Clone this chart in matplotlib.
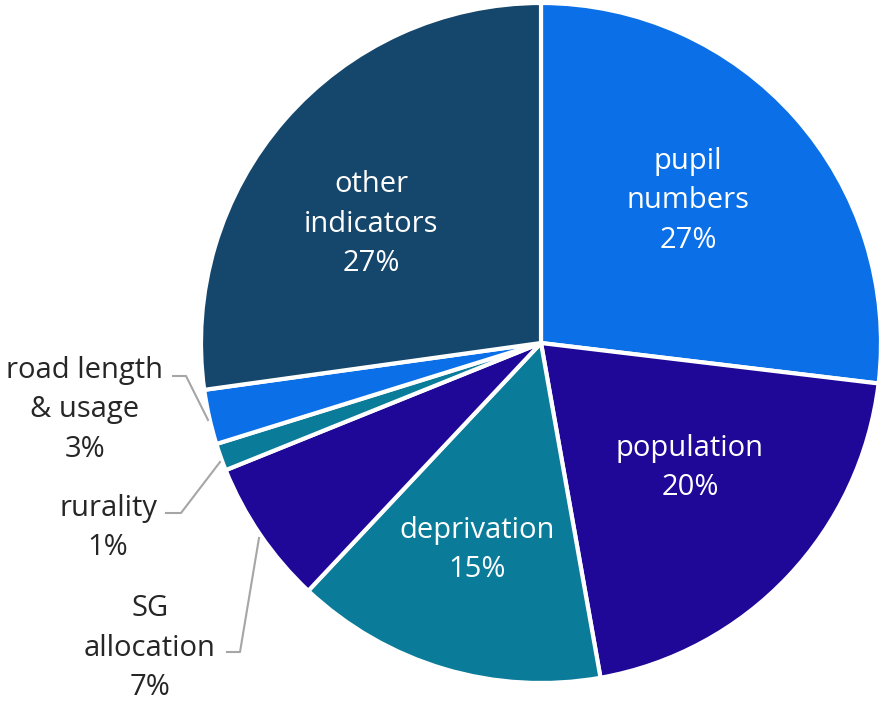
import matplotlib
matplotlib.use("Agg")
import matplotlib.pyplot as plt

categories = ["pupil\nnumbers", "population", "deprivation", "SG\nallocation",
              "rurality", "road length\n& usage", "other\nindicators"]
values = [26.9, 20.3, 14.8, 6.9, 1.3, 2.6, 27.2]
pct_labels = ["27%", "20%", "15%", "7%", "1%", "3%", "27%"]
colors = ["#0B6FE8", "#1F0898", "#0A7C99", "#1F0898", "#0A7C99", "#0B6FE8", "#15466B"]

W, H = 881, 703
fig = plt.figure(figsize=(W / 100, H / 100), dpi=100)
ax = fig.add_axes([0, 0, 1, 1])

cx, cy, R = 541, H - 343, 340
ax.pie(values, colors=colors, startangle=90, counterclock=False,
       center=(cx, cy), radius=R, frame=True,
       wedgeprops=dict(edgecolor="white", linewidth=3))
ax.set_xlim(0, W)
ax.set_ylim(0, H)
ax.axis("off")

font = "Open Sans"
fs = 21
ls = 1.48

# inside labels (index, x, y top-origin)
inside = [(0, 688, 201), (1, 690, 468), (2, 477, 550), (6, 371, 224)]
for i, x, y in inside:
    ax.text(x, H - y, categories[i] + "\n" + pct_labels[i], ha="center", va="center",
            color="white", fontsize=fs, family=font, linespacing=ls)

# outside labels with leader lines
outside = [(5, 85, 410, [(173, 376), (186, 376), (208, 420)]),
           (4, 108, 528, [(166, 513), (181, 513), (220, 462)]),
           (3, 150, 648, [(227, 652), (240, 652), (259, 538)])]
for i, x, y, pts in outside:
    ax.text(x, H - y, categories[i] + "\n" + pct_labels[i], ha="center", va="center",
            color="#262626", fontsize=fs, family=font, linespacing=ls)
    ax.plot([p[0] for p in pts], [H - p[1] for p in pts], color="#A6A6A6", lw=1.5)

fig.savefig("out.png", dpi=100, facecolor="white")
